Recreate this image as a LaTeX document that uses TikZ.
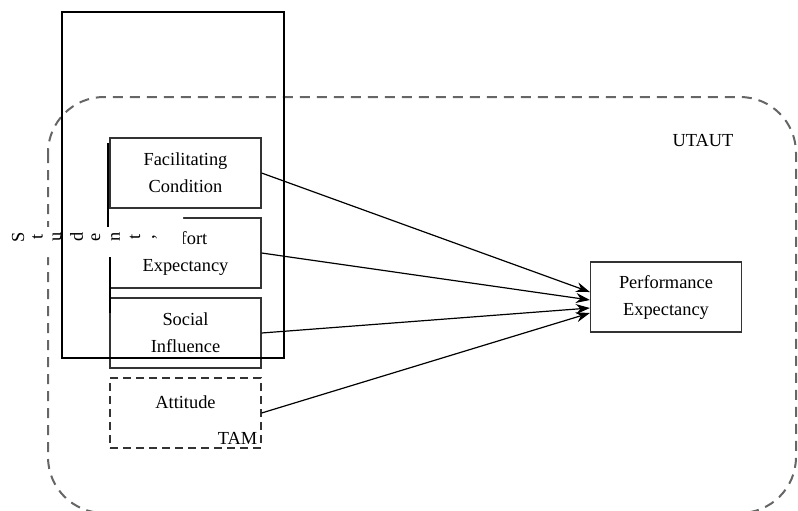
\documentclass[tikz,border=0pt]{standalone}
\usepackage{fontspec}
\usepackage{graphicx}
\setmainfont{Liberation Serif}
\usetikzlibrary{arrows.meta}

\begin{document}
\begin{tikzpicture}[x=0.5pt,y=-0.5pt,node distance=40pt,>={Stealth[length=7pt,width=5pt]},
  every node/.style={font=\fontsize{9.2}{13.5}\selectfont},
  factor/.style={draw=black!80, line width=0.6pt, rectangle, minimum width=75.5pt, minimum height=35pt, align=center, inner sep=0pt}]
\useasboundingbox (0,0) rectangle (798,510);
% UTAUT frame
\draw[black!60, line width=1pt, dash pattern=on 5pt off 3.5pt, rounded corners=28pt] (48,97) rectangle (796,513);
\node (utaut) at (703,141) {UTAUT};

\node[factor] (fc) at (185.5,173) {Facilitating\\Condition};
\node[factor, below of=fc] (ee) {Effort\\Expectancy};
\node[factor, below of=ee] (si) {Social\\Influence};
\node[factor, dash pattern=on 4pt off 2.5pt, below of=si] (att) {};
\node (attl) at ([yshift=5.5pt]att.center) {Attitude};
\node[anchor=south east, inner sep=2pt] (tam) at (att.south east) {TAM};
\node[factor] (pe) at (666,297) {Performance\\Expectancy};

\draw[->, line width=0.6pt] (fc.east) -- ([yshift=2.5pt]pe.west);
\draw[->, line width=0.6pt] (ee.east) -- ([yshift=-1.5pt]pe.west);
\draw[->, line width=0.6pt] (si.east) -- ([yshift=-5.5pt]pe.west);
\draw[->, line width=0.6pt] (att.east) -- ([yshift=-8pt]pe.west);

% student box
\fill[white] (0,227) -- (100,227) -- (100,213) -- (183,213) -- (183,257) -- (0,257) -- cycle;
\draw[line width=1.25pt] (62,12) rectangle (284,358);
\draw[line width=0.9pt] (108,143) -- (108,227);
\draw[line width=0.9pt] (110,257) -- (110,313);
\foreach \ch [count=\i] in {S,t,u,d,e,n,t,{,}}
  \node[inner sep=0pt] (st\i) at ({18+19.5*(\i-1)},237) {\rotatebox{90}{\ch}};
\end{tikzpicture}
\end{document}
